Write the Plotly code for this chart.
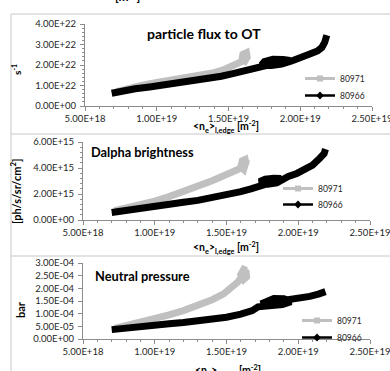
import plotly.graph_objects as go

W, H = 390, 371

# ---------------- data ----------------
x_tick_vals = [0.5e19, 1.0e19, 1.5e19, 2.0e19, 2.5e19]
x_tick_text = ["5.00E+18", "1.00E+19", "1.50E+19", "2.00E+19", "2.50E+19"]

flux_tick_vals = [0, 1e22, 2e22, 3e22, 4e22]
flux_tick_text = ["0.00E+00", "1.00E+22", "2.00E+22", "3.00E+22", "4.00E+22"]
dal_tick_vals = [0, 2e15, 4e15, 6e15]
dal_tick_text = ["0.00E+00", "2.00E+15", "4.00E+15", "6.00E+15"]
pres_tick_vals = [0, 0.5e-4, 1.0e-4, 1.5e-4, 2.0e-4, 2.5e-4, 3.0e-4]
pres_tick_text = ["0.00E+00", "5.00E-05", "1.00E-04", "1.50E-04", "2.00E-04", "2.50E-04", "3.00E-04"]

series_names = ["80971", "80966"]

# particle flux to OT [s^-1]
flux_80971_x = [0.72e19, 0.80e19, 0.90e19, 1.00e19, 1.10e19, 1.20e19, 1.30e19, 1.40e19, 1.47e19, 1.53e19,
                1.58e19, 1.61e19, 1.63e19, 1.635e19, 1.625e19, 1.60e19, 1.595e19, 1.615e19, 1.635e19]
flux_80971_y = [0.70e22, 0.86e22, 1.02e22, 1.15e22, 1.26e22, 1.36e22, 1.47e22, 1.63e22, 1.78e22, 1.95e22,
                2.10e22, 2.22e22, 2.38e22, 2.55e22, 2.60e22, 2.52e22, 2.30e22, 2.20e22, 2.45e22]
flux_80966_x = [0.686e19, 0.75e19, 0.85e19, 0.95e19, 1.05e19, 1.15e19, 1.25e19, 1.35e19, 1.45e19, 1.53e19,
                1.60e19, 1.66e19, 1.71e19, 1.76e19, 1.82e19, 1.88e19, 1.93e19, 1.88e19, 1.81e19, 1.75e19,
                1.73e19, 1.80e19, 1.87e19, 1.94e19, 1.98e19, 2.03e19, 2.08e19, 2.12e19, 2.15e19, 2.17e19, 2.185e19]
flux_80966_y = [0.62e22, 0.72e22, 0.84e22, 0.93e22, 1.02e22, 1.11e22, 1.21e22, 1.32e22, 1.45e22, 1.58e22,
                1.70e22, 1.81e22, 1.93e22, 2.02e22, 2.07e22, 2.12e22, 2.22e22, 2.27e22, 2.28e22, 2.17e22,
                2.00e22, 1.98e22, 2.04e22, 2.20e22, 2.33e22, 2.45e22, 2.57e22, 2.68e22, 2.85e22, 3.10e22, 3.45e22]

# Dalpha brightness [ph/s/sr/cm^2]
dal_80971_x = [0.72e19, 0.80e19, 0.90e19, 1.00e19, 1.10e19, 1.20e19, 1.30e19, 1.40e19, 1.50e19, 1.56e19,
               1.60e19, 1.625e19, 1.635e19, 1.63e19, 1.61e19, 1.60e19, 1.62e19, 1.64e19]
dal_80971_y = [0.72e15, 0.90e15, 1.15e15, 1.45e15, 1.80e15, 2.18e15, 2.60e15, 3.02e15, 3.50e15, 3.72e15,
               3.90e15, 4.10e15, 4.40e15, 4.65e15, 4.55e15, 4.10e15, 3.90e15, 4.65e15]
dal_80966_x = [0.70e19, 0.80e19, 0.90e19, 1.00e19, 1.10e19, 1.20e19, 1.30e19, 1.40e19, 1.50e19, 1.60e19,
               1.67e19, 1.72e19, 1.76e19, 1.81e19, 1.86e19, 1.88e19, 1.83e19, 1.77e19, 1.73e19, 1.79e19,
               1.85e19, 1.88e19, 1.93e19, 1.99e19, 2.05e19, 2.10e19, 2.15e19, 2.18e19, 2.19e19]
dal_80966_y = [0.58e15, 0.76e15, 0.92e15, 1.07e15, 1.22e15, 1.36e15, 1.51e15, 1.70e15, 1.92e15, 2.18e15,
               2.40e15, 2.62e15, 2.80e15, 2.88e15, 3.00e15, 3.20e15, 3.22e15, 3.15e15, 2.95e15, 2.75e15,
               2.85e15, 3.10e15, 3.35e15, 3.58e15, 3.88e15, 4.22e15, 4.75e15, 5.10e15, 5.45e15]

# Neutral pressure [bar]
pres_80971_x = [0.72e19, 0.80e19, 0.90e19, 1.00e19, 1.10e19, 1.20e19, 1.30e19, 1.40e19, 1.48e19, 1.54e19,
                1.58e19, 1.60e19, 1.615e19, 1.635e19, 1.64e19, 1.62e19, 1.60e19, 1.62e19, 1.64e19]
pres_80971_y = [0.42e-4, 0.52e-4, 0.65e-4, 0.80e-4, 0.95e-4, 1.12e-4, 1.32e-4, 1.55e-4, 1.78e-4, 2.02e-4,
                2.25e-4, 2.42e-4, 2.60e-4, 2.72e-4, 2.45e-4, 2.35e-4, 2.55e-4, 2.75e-4, 2.70e-4]
pres_80966_x = [0.70e19, 0.80e19, 0.90e19, 1.00e19, 1.10e19, 1.20e19, 1.30e19, 1.40e19, 1.50e19, 1.60e19,
                1.68e19, 1.72e19, 1.77e19, 1.83e19, 1.89e19, 1.95e19, 1.90e19, 1.83e19, 1.77e19, 1.74e19,
                1.80e19, 1.88e19, 1.96e19, 2.02e19, 2.08e19, 2.14e19, 2.19e19]
pres_80966_y = [0.37e-4, 0.44e-4, 0.51e-4, 0.56e-4, 0.60e-4, 0.65e-4, 0.70e-4, 0.77e-4, 0.86e-4, 0.98e-4,
                1.12e-4, 1.27e-4, 1.29e-4, 1.32e-4, 1.36e-4, 1.47e-4, 1.59e-4, 1.60e-4, 1.50e-4, 1.38e-4,
                1.44e-4, 1.50e-4, 1.54e-4, 1.61e-4, 1.68e-4, 1.77e-4, 1.87e-4]

panel_titles = ["particle flux to OT", "Dalpha brightness", "Neutral pressure"]
y_titles = ["s<sup>-1</sup>", "[ph/s/sr/cm<sup>2</sup>]", "bar"]
x_title = "<n<sub>e</sub>><sub>l,edge</sub> [m<sup>-2</sup>]"

# ---------------- styling / layout ----------------
GRAY = "#c0c0c0"
BLACK = "#000000"
FONT = "Lato"
TXT = "#262626"
AX = "#8c8c8c"
BAND = 7


def py(px):
    return 1 - px / H


def pxx(px):
    return px / W


LEG_DY = 13  # legend box top is this far above the item's centre line

panels = [
    dict(x=(85, 372), y=(24, 106), rng=[0, 4e22], tv=flux_tick_vals, tt=flux_tick_text,
         minor=0.2e22, data=(flux_80971_x, flux_80971_y, flux_80966_x, flux_80966_y),
         legend=(300, 77, 94), title=(204, 33, "center", 14), ytitle=(17, 70), xtitle=(226, 127)),
    dict(x=(83, 370), y=(142, 220), rng=[0, 6e15], tv=dal_tick_vals, tt=dal_tick_text,
         minor=0.4e15, data=(dal_80971_x, dal_80971_y, dal_80966_x, dal_80966_y),
         legend=(278, 187, 203), title=(89, 152, "left", 12.8), ytitle=(15, 192), xtitle=(226, 248)),
    dict(x=(83, 370), y=(263, 339), rng=[0, 3e-4], tv=pres_tick_vals, tt=pres_tick_text,
         minor=None, data=(pres_80971_x, pres_80971_y, pres_80966_x, pres_80966_y),
         legend=(297, 319, 336), title=(93, 276, "left", 12.8), ytitle=(20, 310), xtitle=(228, 371)),
]

fig = go.Figure()
annotations = []
layout = {}
leg_count = 0

for i, p in enumerate(panels):
    n = "" if i == 0 else str(i + 1)
    xa, ya = "x" + n, "y" + n
    gx, gy, bx, by = p["data"]
    fig.add_trace(go.Scatter(x=gx, y=gy, mode="lines", line=dict(color=GRAY, width=BAND),
                             xaxis=xa, yaxis=ya, showlegend=False, hoverinfo="skip"))
    fig.add_trace(go.Scatter(x=bx, y=by, mode="lines", line=dict(color=BLACK, width=BAND),
                             xaxis=xa, yaxis=ya, showlegend=False, hoverinfo="skip"))
    styles = [
        (GRAY, 3, "square", 6),
        (BLACK, 2.5, "diamond", 6),
    ]
    lx, ly1, ly2 = p["legend"]
    for k, (col, lw, sym, ms) in enumerate(styles):
        leg_count += 1
        leg = "legend" if leg_count == 1 else "legend" + str(leg_count)
        fig.add_trace(go.Scatter(x=[None], y=[None], mode="lines+markers", name=series_names[k],
                                 line=dict(color=col, width=lw), marker=dict(symbol=sym, size=ms, color=col),
                                 xaxis=xa, yaxis=ya, legend=leg))
        item_y = ly1 if k == 0 else ly2
        layout[leg] = dict(x=pxx(lx), y=py(item_y - LEG_DY), xanchor="left", yanchor="top",
                           bgcolor="rgba(0,0,0,0)", borderwidth=0,
                           font=dict(family=FONT, size=8.5, color=TXT))

    layout["xaxis" + n] = dict(
        domain=[pxx(p["x"][0]), pxx(p["x"][1])], anchor=ya, range=[0.5e19, 2.5e19],
        tickmode="array", tickvals=x_tick_vals, ticktext=x_tick_text,
        showline=True, linecolor=AX, linewidth=1, ticks="outside", ticklen=4, tickcolor=AX,
        minor=dict(tickmode="linear", tick0=0.5e19, dtick=0.1e19, ticks="outside", ticklen=2, tickcolor=AX),
        tickfont=dict(family=FONT, size=9.5, color=TXT), showgrid=False, zeroline=False,
        ticklabeloverflow="allow", fixedrange=True, automargin=False,
    )
    ydict = dict(
        domain=[py(p["y"][1]), py(p["y"][0])], anchor=xa, range=p["rng"],
        tickmode="array", tickvals=p["tv"], ticktext=p["tt"],
        showline=True, linecolor=AX, linewidth=1, ticks="outside", ticklen=4, tickcolor=AX,
        tickfont=dict(family=FONT, size=9.5, color=TXT), showgrid=False, zeroline=False,
        ticklabelstandoff=2, ticklabeloverflow="allow", fixedrange=True, automargin=False,
    )
    if p["minor"]:
        ydict["minor"] = dict(tickmode="linear", tick0=0, dtick=p["minor"], ticks="outside",
                              ticklen=2, tickcolor=AX)
    layout["yaxis" + n] = ydict

    tx, ty, al, fs = p["title"]
    annotations.append(dict(text="<b>" + panel_titles[i] + "</b>", x=pxx(tx), y=py(ty),
                            xref="paper", yref="paper", xanchor=al, yanchor="middle", showarrow=False,
                            font=dict(family=FONT, size=fs, color="#000000")))
    yx, yy = p["ytitle"]
    annotations.append(dict(text="<b>" + y_titles[i] + "</b>", x=pxx(yx), y=py(yy), textangle=-90,
                            xref="paper", yref="paper", xanchor="center", yanchor="middle",
                            showarrow=False, font=dict(family=FONT, size=11 if i else 10, color="#000000")))
    xx, xy = p["xtitle"]
    annotations.append(dict(text="<b>" + x_title + "</b>", x=pxx(xx), y=py(xy),
                            xref="paper", yref="paper", xanchor="center", yanchor="middle",
                            showarrow=False, font=dict(family=FONT, size=10.5, color="#000000")))

# cut-off axis title of the chart above
annotations.append(dict(text="<b>[m<sup>-2</sup>]</b>", x=pxx(127), y=py(-4), xref="paper", yref="paper",
                        xanchor="center", yanchor="middle", showarrow=False,
                        font=dict(family=FONT, size=12, color="#000000")))

BOX = "#c8c8c8"
shapes = [
    dict(type="line", xref="paper", yref="paper", x0=pxx(11), x1=pxx(11), y0=py(14), y1=py(372),
         line=dict(color=BOX, width=1)),
    dict(type="line", xref="paper", yref="paper", x0=pxx(11), x1=1.01, y0=py(14), y1=py(14),
         line=dict(color=BOX, width=1)),
    dict(type="line", xref="paper", yref="paper", x0=pxx(11), x1=1.01, y0=py(134), y1=py(134),
         line=dict(color=BOX, width=1)),
    dict(type="line", xref="paper", yref="paper", x0=pxx(11), x1=1.01, y0=py(256), y1=py(256),
         line=dict(color=BOX, width=1)),
]

fig.update_layout(
    width=W, height=H, margin=dict(l=0, r=0, t=0, b=0, pad=0),
    paper_bgcolor="white", plot_bgcolor="white",
    annotations=annotations, shapes=shapes, **layout,
)

fig.write_html("out.html", config={"displayModeBar": False},
               post_script="document.body.style.margin='0';document.body.style.overflow='hidden';")
